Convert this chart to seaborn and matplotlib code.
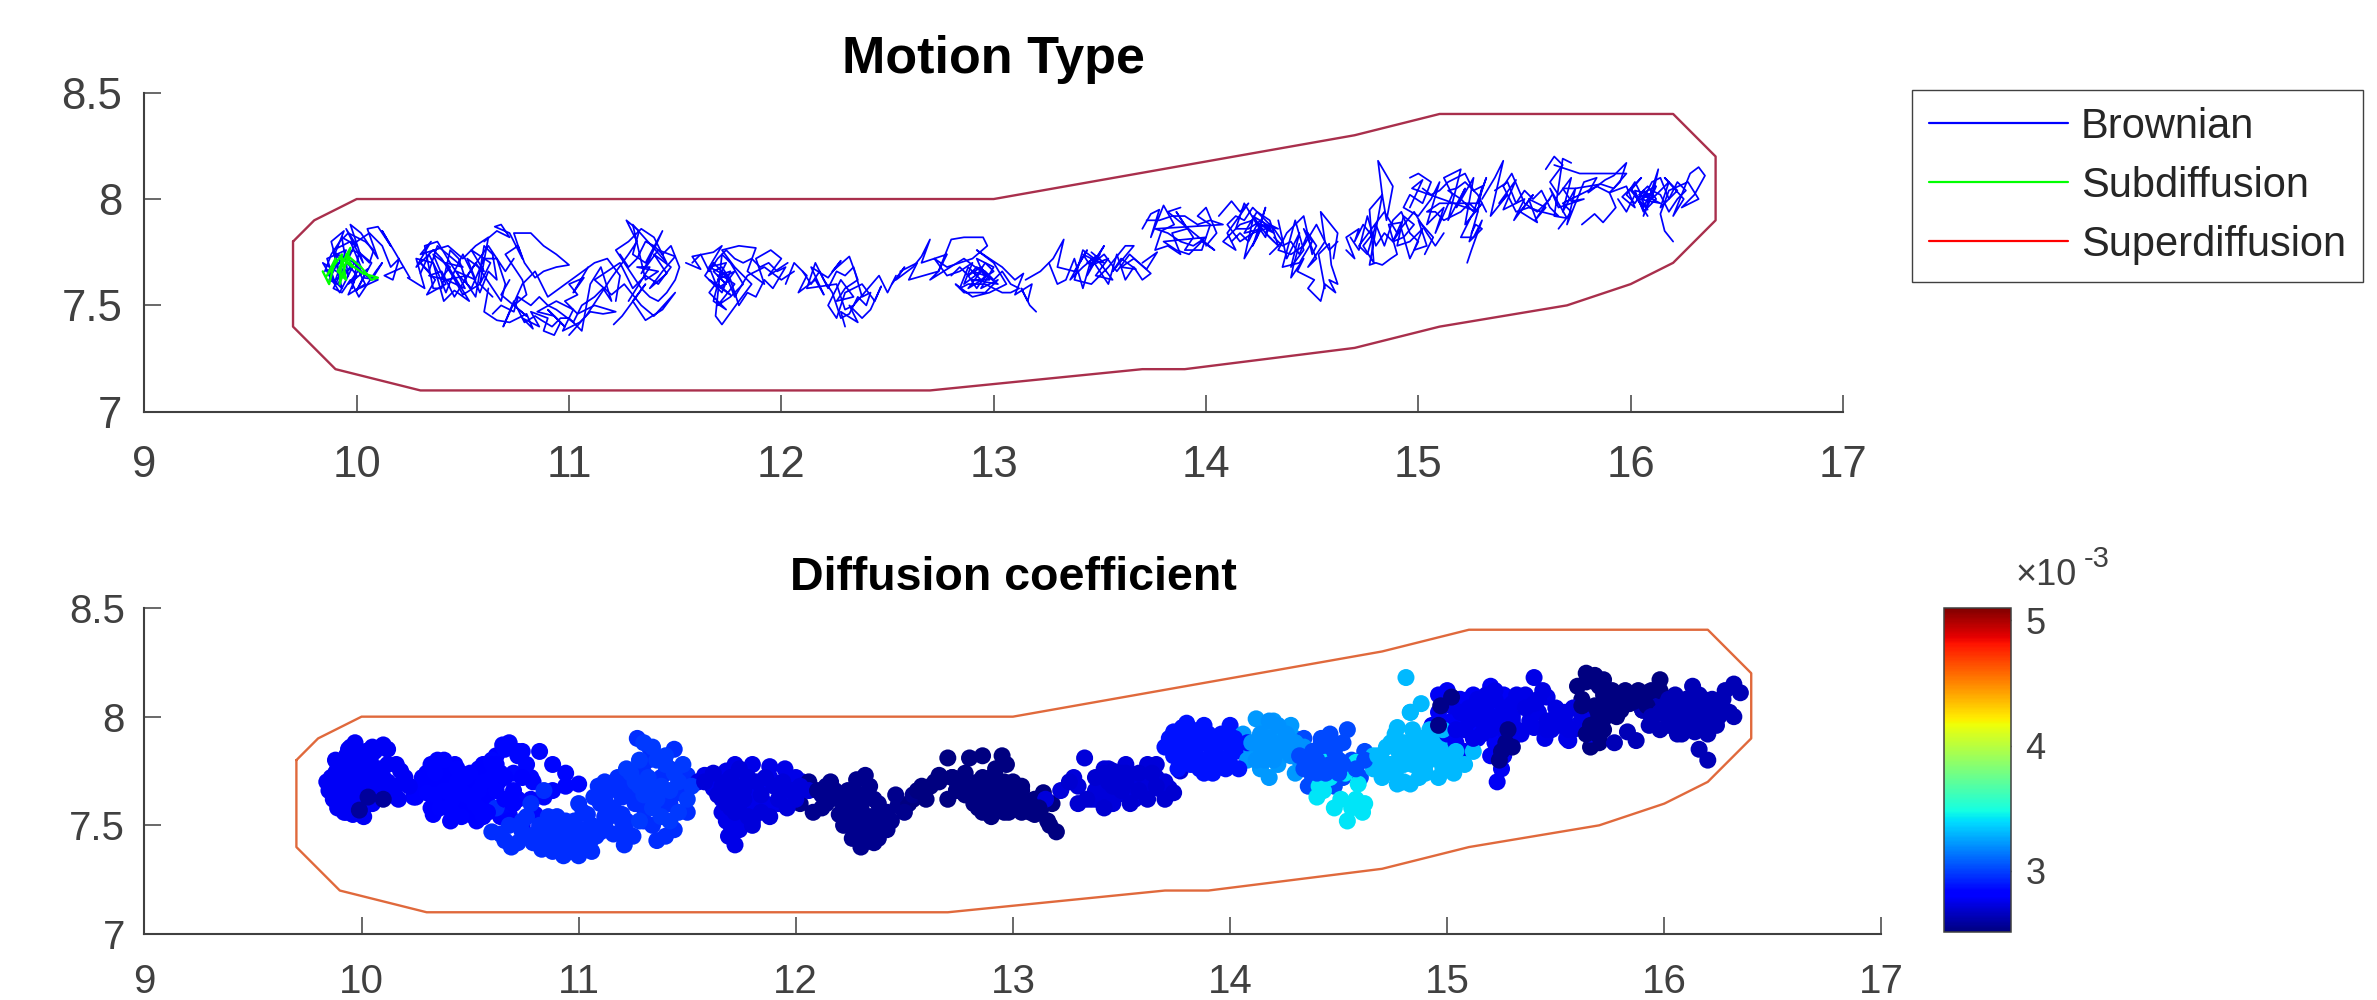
import pandas as pd
import matplotlib
matplotlib.use("Agg")
import matplotlib.pyplot as plt
import seaborn as sns
from matplotlib.colors import Normalize
from matplotlib.cm import ScalarMappable
from matplotlib.lines import Line2D

# boundary polygon
hull_x = [9.7, 9.8, 10, 13, 14.7, 15.1, 16.2, 16.4, 16.4, 16.2, 16, 15.7, 15.1, 14.7, 13.9, 13.7, 12.7, 10.3, 9.9, 9.7, 9.7]
hull_y = [7.8, 7.9, 8, 8, 8.3, 8.4, 8.4, 8.2, 7.9, 7.7, 7.6, 7.5, 7.4, 7.3, 7.2, 7.2, 7.1, 7.1, 7.2, 7.4, 7.8]

# tracks (same positions in both)
x1 = [10.25,10.18,10.12,10.16,10.10,10.05,10.10,10.02,9.97,10.03,9.95,10.00,9.93,9.96,9.90,9.94,9.88,9.92,9.84,9.90,9.86,9.95,9.90,9.98,9.92,9.86,9.94,10.00,9.96,10.04,9.99,9.91,9.87,9.93,9.89,9.97,10.02,9.96,10.05,10.00,10.07,10.01,9.98]
y1 = [7.63,7.75,7.85,7.78,7.87,7.86,7.72,7.84,7.88,7.70,7.86,7.78,7.82,7.64,7.75,7.85,7.80,7.65,7.70,7.60,7.72,7.76,7.62,7.68,7.56,7.66,7.72,7.64,7.55,7.60,7.70,7.74,7.64,7.58,7.76,7.80,7.68,7.60,7.67,7.57,7.70,7.75,7.58]
x2 = [10.24,10.32,10.28,10.36,10.41,10.46,10.53,10.47,10.42,10.50,10.38,10.34,10.30,10.37,10.33,10.42,10.36,10.44,10.40,10.51,10.47,10.56,10.52,10.60,10.54,10.63,10.58,10.50,10.45,10.40,10.36,10.28,10.35,10.30,10.43,10.50,10.56,10.62,10.58,10.64]
y2 = [7.63,7.58,7.72,7.70,7.52,7.57,7.52,7.62,7.70,7.68,7.78,7.66,7.70,7.62,7.55,7.60,7.74,7.68,7.63,7.58,7.66,7.62,7.72,7.66,7.76,7.70,7.60,7.55,7.64,7.72,7.76,7.68,7.80,7.74,7.78,7.72,7.78,7.82,7.60,7.54]
x3 = [10.60,10.66,10.72,10.68,10.65,10.72,10.78,10.74,10.82,10.88,10.94,11.00,10.94,10.88,10.84,10.79,10.76,10.70,10.78,10.80,10.74,10.80,10.68,10.72]
y3 = [7.80,7.85,7.82,7.88,7.87,7.84,7.72,7.84,7.84,7.78,7.74,7.69,7.68,7.66,7.63,7.70,7.78,7.74,7.62,7.55,7.50,7.45,7.55,7.62]
x4 = [10.62,10.60,10.66,10.72,10.80,10.83,10.78,10.86,10.82,10.90,10.88,10.93,10.96,10.90,10.98,10.93,10.85,10.94,11.02,10.97,11.05,11.10,11.16,11.22,11.12,11.04,10.98,11.04,11.0,11.07,11.02,11.09]
y4 = [7.58,7.47,7.43,7.42,7.46,7.39,7.44,7.40,7.47,7.44,7.38,7.36,7.42,7.48,7.40,7.45,7.47,7.52,7.48,7.38,7.42,7.47,7.46,7.47,7.50,7.46,7.52,7.55,7.60,7.63,7.56,7.68]
x5 = [11.0,11.08,11.14,11.20,11.28,11.32,11.27,11.33,11.30,11.36,11.44,11.38,11.34,11.42,11.50,11.44,11.38,11.46,11.40,11.48,11.42,11.36,11.30,11.24,11.18,11.12,11.20,11.26,11.34,11.40,11.50,11.44,11.36,11.30,11.36,11.25,11.21]
y5 = [7.36,7.45,7.54,7.63,7.74,7.80,7.90,7.85,7.74,7.70,7.85,7.72,7.65,7.76,7.73,7.66,7.58,7.65,7.74,7.68,7.60,7.64,7.58,7.70,7.66,7.62,7.55,7.60,7.50,7.45,7.56,7.48,7.43,7.52,7.60,7.45,7.41]
x6 = [11.55,11.62,11.58,11.68,11.72,11.66,11.74,11.70,11.78,11.72,11.66,11.76,11.70,11.68,11.74,11.66,11.72,11.78,11.70,11.76,11.82,11.76,11.72,11.69,11.72,11.80,11.86,11.78,11.72,11.80,11.88,11.84,11.92,11.88,11.95,12.0,11.94,12.03]
y6 = [7.70,7.67,7.73,7.75,7.78,7.68,7.70,7.62,7.66,7.58,7.62,7.55,7.60,7.52,7.48,7.56,7.64,7.60,7.50,7.54,7.60,7.70,7.74,7.45,7.41,7.52,7.60,7.68,7.76,7.78,7.77,7.66,7.60,7.72,7.76,7.72,7.64,7.70]
x7 = [12.02,12.06,12.12,12.08,12.16,12.20,12.14,12.22,12.28,12.24,12.32,12.36,12.30,12.26,12.34,12.28,12.22,12.26,12.30,12.38,12.44,12.47,12.42,12.38,12.32,12.36,12.28,12.30]
y7 = [7.60,7.70,7.64,7.56,7.62,7.55,7.68,7.63,7.71,7.66,7.73,7.62,7.58,7.52,7.54,7.62,7.50,7.44,7.56,7.60,7.52,7.59,7.48,7.44,7.50,7.42,7.47,7.40]
x8 = [12.52,12.58,12.54,12.62,12.66,12.70,12.66,12.72,12.78,12.74,12.80,12.86,12.95,12.97,12.90,12.84,12.78,12.72,12.78,12.84,12.90,12.86,12.94,12.88,12.96,12.92,13.00,12.94,13.02,12.96,12.86,12.82,12.90,12.98,13.06,13.0,12.92,13.04,13.10,13.14,13.10,13.18,13.16,13.13,13.17,13.20]
y8 = [7.60,7.68,7.62,7.68,7.73,7.81,7.70,7.72,7.74,7.66,7.81,7.82,7.82,7.78,7.72,7.70,7.68,7.72,7.64,7.66,7.70,7.60,7.66,7.58,7.63,7.72,7.68,7.58,7.62,7.56,7.56,7.60,7.54,7.56,7.60,7.70,7.76,7.68,7.62,7.65,7.55,7.60,7.52,7.58,7.50,7.47]
x9 = [13.15,13.22,13.28,13.33,13.30,13.38,13.44,13.36,13.42,13.48,13.44,13.52,13.46,13.54,13.48,13.56,13.50,13.42,13.38,13.46,13.54,13.62,13.66,13.56,13.60,13.67,13.60,13.66,13.72,13.77,13.70]
y9 = [7.62,7.66,7.72,7.81,7.68,7.66,7.76,7.62,7.68,7.73,7.64,7.78,7.69,7.72,7.64,7.62,7.70,7.76,7.62,7.60,7.68,7.78,7.78,7.66,7.72,7.67,7.68,7.72,7.67,7.75,7.70]
x10 = [13.70,13.74,13.78,13.74,13.80,13.85,13.79,13.76,13.82,13.88,13.84,13.91,13.86,13.94,13.90,13.98,14.02,13.96,14.0,14.05,14.0]
y10 = [7.86,7.93,7.95,7.82,7.97,7.88,7.85,7.76,7.78,7.74,7.84,7.86,7.94,7.82,7.76,7.76,7.88,7.92,7.96,7.84,7.78]
x11 = [14.06,14.12,14.16,14.20,14.10,14.14,14.08,14.16,14.22,14.18,14.24,14.28,14.22,14.26,14.18,14.24,14.30,14.34,14.28,14.22,14.32,14.36,14.30]
y11 = [7.92,7.99,7.94,7.98,7.84,7.76,7.80,7.88,7.90,7.72,7.82,7.96,7.78,7.86,7.84,7.94,7.90,7.78,7.84,7.92,7.86,7.80,7.74]
x12 = [14.34,14.38,14.44,14.40,14.46,14.42,14.36,14.44,14.50,14.46,14.52,14.48,14.56,14.54,14.62,14.60]
y12 = [7.90,7.72,7.84,7.68,7.76,7.90,7.68,7.70,7.80,7.86,7.72,7.68,7.80,7.94,7.84,7.72]
x13 = [14.44,14.41,14.40,14.46,14.43,14.51,14.48,14.54,14.56,14.61,14.58,14.62,14.59,14.58,14.53,14.56]
y13 = [7.79,7.68,7.63,7.72,7.66,7.62,7.58,7.52,7.60,7.56,7.62,7.60,7.69,7.79,7.74,7.58]
x14 = [14.66,14.70,14.66,14.72,14.70,14.74,14.78,14.74,14.79,14.77,14.83,14.85,14.88,14.81,14.83,14.77,14.80,14.83,14.87,14.90,14.86,14.92,14.88,14.93,14.98,14.93,14.90,14.96,15.02,14.98,15.04,15.0,15.07,15.03]
y14 = [7.76,7.72,7.82,7.86,7.80,7.88,7.83,7.78,7.70,7.95,8.02,7.90,8.06,8.18,8.02,7.69,7.70,7.69,7.72,7.74,7.88,7.89,7.80,7.82,7.88,7.92,7.78,7.80,7.86,7.76,7.78,7.90,7.82,7.74]
x15 = [14.96,15.0,15.06,15.02,14.96,14.93,15.0,15.06,15.10,15.04,15.12,15.08,15.16,15.12,15.20,15.14,15.22,15.18,15.26,15.22,15.30,15.25,15.20,15.26,15.30,15.25,15.23]
y15 = [8.10,8.12,8.08,7.98,8.02,7.96,7.92,8.0,8.08,7.88,7.96,7.84,8.02,8.10,8.14,7.90,8.05,7.96,8.10,7.88,7.98,7.92,7.82,7.82,7.90,7.76,7.70]
x16 = [15.30,15.36,15.40,15.34,15.42,15.38,15.46,15.40,15.50,15.45,15.54,15.48,15.56,15.52,15.60,15.55,15.63]
y16 = [8.00,8.10,8.18,7.92,8.02,7.98,8.09,7.95,8.0,7.90,8.02,7.94,7.89,8.0,7.96,7.90,8.02]
x17 = [15.60,15.64,15.68,15.62,15.66,15.72,15.68,15.74,15.70,15.78,15.84,15.80,15.88,15.92,15.98,15.95,15.90,15.84,15.76,15.68,15.72,15.66]
y17 = [8.14,8.20,8.16,8.08,8.02,8.10,7.94,8.05,7.88,8.08,8.10,8.03,8.09,8.11,8.17,8.08,8.03,8.06,8.02,7.98,7.94,7.86]
x18 = [15.77,15.83,15.87,15.93,15.90,15.98,16.02,15.96,16.05,16.0,16.08,16.04,16.12,16.06,16.13,16.10,16.18,16.14,16.22,16.16,16.25,16.20,16.28,16.32,16.35,16.30,16.24,16.32,16.27,16.18,16.14,16.16,16.20]
y18 = [7.88,7.93,7.89,7.96,8.03,8.06,7.96,8.01,8.10,8.04,7.95,8.02,8.06,7.92,8.14,8.0,8.08,7.96,8.04,8.10,8.0,7.92,8.12,8.15,8.11,8.02,7.96,8.0,8.08,8.04,7.93,7.85,7.80]
x19 = [9.85,9.88,9.92,9.96,10.0,10.04,10.08,10.06,10.02,9.98,9.94,9.90,9.87,9.91,9.95,9.99,10.03,10.07,10.12,10.09,10.05,10.01,9.97,9.93,9.89,9.95,10.0,10.06,10.12,10.16,10.20,10.17,10.13,10.22]
y19 = [7.66,7.74,7.80,7.84,7.82,7.80,7.76,7.70,7.74,7.76,7.72,7.68,7.62,7.60,7.66,7.70,7.65,7.62,7.70,7.66,7.60,7.54,7.62,7.56,7.58,7.70,7.80,7.84,7.78,7.68,7.72,7.62,7.64,7.68]
x20 = [10.30,10.34,10.38,10.42,10.46,10.50,10.54,10.58,10.62,10.66,10.64,10.60,10.56,10.52,10.48,10.44,10.40,10.36,10.32,10.38,10.44,10.48,10.54,10.60,10.66,10.70,10.68,10.56,10.46,10.40,10.34,10.42,10.52,10.62,10.70,10.74]
y20 = [7.65,7.74,7.66,7.56,7.66,7.74,7.66,7.56,7.66,7.62,7.74,7.78,7.54,7.60,7.72,7.76,7.58,7.58,7.78,7.80,7.70,7.64,7.58,7.72,7.72,7.60,7.52,7.70,7.54,7.66,7.64,7.62,7.64,7.78,7.66,7.72]
x21 = [10.64,10.68,10.74,10.76,10.82,10.86,10.90,10.94,10.98,11.02,11.06,11.12,11.16,11.20,11.15,11.10,11.06,11.00,10.96,10.92,10.87,10.84,10.79,10.74,10.69,10.78,10.84,10.90,11.12,11.18,11.24,11.22]
y21 = [7.46,7.50,7.47,7.54,7.50,7.54,7.50,7.48,7.45,7.42,7.50,7.54,7.58,7.52,7.68,7.60,7.38,7.44,7.44,7.40,7.43,7.45,7.42,7.52,7.40,7.60,7.66,7.54,7.70,7.72,7.64,7.52]
x22 = [11.24,11.28,11.32,11.36,11.40,11.44,11.48,11.52,11.50,11.46,11.42,11.38,11.34,11.30,11.26,11.22,11.28,11.34,11.40,11.46,11.30,11.36,11.42,11.32,11.38,11.28]
y22 = [7.74,7.68,7.72,7.80,7.78,7.74,7.78,7.68,7.62,7.56,7.52,7.54,7.58,7.64,7.70,7.76,7.80,7.86,7.82,7.70,7.88,7.62,7.66,7.68,7.68,7.52]
x23 = [11.58,11.62,11.66,11.70,11.74,11.78,11.82,11.86,11.90,11.94,11.98,12.02,11.96,11.92,11.88,11.84,11.80,11.76,11.72,11.68,11.64,11.68,11.72,11.76,11.70,11.74,11.68,11.72,11.76,11.70,11.66,11.74,11.78,11.84,11.92,12.00,12.06]
y23 = [7.70,7.74,7.66,7.72,7.76,7.72,7.70,7.72,7.68,7.70,7.66,7.68,7.58,7.62,7.54,7.56,7.50,7.62,7.66,7.70,7.64,7.60,7.56,7.66,7.64,7.60,7.66,7.68,7.62,7.58,7.68,7.64,7.54,7.64,7.68,7.62,7.66]
x24 = [12.10,12.14,12.18,12.22,12.26,12.30,12.34,12.38,12.42,12.40,12.36,12.32,12.28,12.24,12.20,12.16,12.12,12.26,12.30,12.34,12.46,12.50,12.54]
y24 = [7.66,7.60,7.66,7.58,7.66,7.64,7.68,7.54,7.56,7.50,7.54,7.46,7.44,7.56,7.62,7.70,7.58,7.60,7.48,7.50,7.64,7.56,7.64]
x25 = [12.80,12.84,12.88,12.92,12.96,13.00,13.04,13.08,13.12,13.08,13.04,13.00,12.96,12.92,12.88,12.84,12.88,12.92,12.96,13.00,12.94,12.90,12.96,12.92,12.88,12.94,12.98,12.90,13.02,12.86,12.70,12.74,12.60,12.64,12.56]
y25 = [7.64,7.68,7.64,7.68,7.66,7.62,7.66,7.60,7.58,7.56,7.56,7.58,7.60,7.60,7.60,7.58,7.68,7.64,7.70,7.66,7.62,7.66,7.64,7.58,7.64,7.68,7.62,7.62,7.60,7.72,7.62,7.66,7.62,7.70,7.66]
x26 = [13.26,13.30,13.34,13.38,13.42,13.46,13.50,13.54,13.58,13.62,13.66,13.70,13.74,13.64,13.58,13.52,13.47,13.44,13.50,13.46,13.42,13.48,13.52,13.46]
y26 = [7.70,7.60,7.62,7.72,7.58,7.72,7.66,7.60,7.74,7.62,7.68,7.62,7.65,7.74,7.66,7.74,7.70,7.70,7.74,7.68,7.74,7.71,7.70,7.75]
x27 = [13.72,13.78,13.84,13.90,13.96,14.02,14.08,13.76,13.82,13.88,13.94,14.00,13.80,13.86,13.92,13.98,14.04,13.82,13.88]
y27 = [7.90,7.90,7.92,7.92,7.88,7.90,7.88,7.86,7.84,7.80,7.78,7.82,7.80,7.76,7.74,7.80,7.76,7.94,7.96]
x28 = [14.12,14.16,14.20,14.24,14.28,14.30,14.26,14.22,14.18,14.14,14.10,14.16,14.22,14.28,14.32,14.26,14.20,14.14,14.18,14.24,14.30,14.26,14.34,14.30,14.28,14.32]
y28 = [7.80,7.84,7.80,7.88,7.82,7.88,7.92,7.96,7.90,7.92,7.88,7.80,7.84,7.86,7.84,7.90,7.86,7.86,7.98,7.88,7.86,7.88,7.86,7.88,7.84,7.80]
x29 = [14.32,14.36,14.40,14.44,14.48,14.52,14.50,14.46,14.42,14.38,14.34,14.40,14.46,14.52,14.58,14.62]
y29 = [7.82,7.78,7.80,7.74,7.84,7.78,7.74,7.92,7.88,7.84,7.76,7.74,7.78,7.88,7.76,7.80]
x30 = [14.68,14.72,14.76,14.80,14.84,14.88,14.92,14.96,15.0,14.96,14.92,14.88,14.84,14.80,14.76,14.72,14.84,14.90,14.98,15.04,15.08,15.12]
y30 = [7.82,7.76,7.92,7.78,7.84,7.80,7.86,7.72,7.80,7.84,7.94,7.90,7.78,7.88,7.74,7.78,7.94,7.84,7.94,7.84,7.78,7.84]
x31 = [15.02,15.06,15.10,15.14,15.18,15.22,15.26,15.30,15.28,15.24,15.20,15.16,15.12,15.08,15.04,15.10,15.16,15.22,15.28,15.32,15.26,15.20,15.14,15.18,15.22,15.28,15.32]
y31 = [8.05,8.02,8.04,8.08,8.10,8.12,8.04,8.06,7.94,7.98,7.94,7.92,7.90,7.94,7.94,7.98,7.98,7.98,7.98,8.10,7.94,8.0,8.04,8.05,8.08,8.02,7.94]
x32 = [15.25,15.27,15.30,15.24,15.28,14.97,15.02,14.96]
y32 = [7.84,7.88,7.86,7.80,7.94,8.05,8.09,7.96]
x33 = [15.36,15.42,15.46,15.50,15.54,15.58,15.62,15.66,15.58,15.52,15.46,15.40,15.44,15.50,15.56,15.62]
y33 = [8.04,8.08,7.98,8.04,8.0,8.04,7.96,7.92,7.94,7.96,7.94,8.06,8.12,7.98,7.94,8.0]
x34 = [15.64,15.70,15.76,15.82,15.88,15.94,15.98,15.92,15.86,15.80,15.74,15.68,15.72,15.78,15.66,15.62,15.70,15.64,15.68,15.72]
y34 = [8.16,8.14,8.12,8.12,8.12,8.12,8.12,8.05,8.07,8.06,8.05,8.05,7.99,8.0,7.96,8.05,7.91,7.92,8.19,8.17]
x35 = [15.94,15.98,16.02,16.06,16.10,16.14,16.18,16.22,16.26,16.22,16.18,16.14,16.10,16.06,16.02,15.98,16.02,16.06,16.10,16.04,16.08,16.12,16.06,16.02,16.10,16.06,16.14,16.04,16.00,16.08]
y35 = [8.0,7.94,8.02,7.96,8.04,8.02,7.94,8.0,8.04,8.08,8.0,8.10,8.08,8.0,8.08,8.02,7.98,8.04,8.0,8.02,8.06,8.0,7.94,8.04,8.02,8.02,7.98,8.0,8.05,7.92]
x36 = [10.03, 10.10, 9.99]
y36 = [7.63, 7.62, 7.57]

track_xs = [x1, x2, x3, x4, x5, x6, x7, x8, x9, x10, x11, x12, x13, x14, x15, x16, x17, x18,
            x19, x20, x21, x22, x23, x24, x25, x26, x27, x28, x29, x30, x31, x32, x33, x34, x35, x36]
track_ys = [y1, y2, y3, y4, y5, y6, y7, y8, y9, y10, y11, y12, y13, y14, y15, y16, y17, y18,
            y19, y20, y21, y22, y23, y24, y25, y26, y27, y28, y29, y30, y31, y32, y33, y34, y35, y36]
# diffusion coefficient of each track (x 1e-3)
track_d = [2.78, 2.82, 2.85, 2.95, 2.95, 2.75, 2.55, 2.52, 2.72, 2.88, 3.22, 3.02, 3.42, 3.3, 2.78, 2.75, 2.52, 2.64,
           2.78, 2.84, 2.95, 2.98, 2.72, 2.55, 2.52, 2.7, 2.88, 3.2, 3.02, 3.3, 2.75, 2.54, 2.74, 2.52, 2.64, 2.58]

sub_x = [9.84, 9.87, 9.90, 9.86, 9.93, 9.92, 9.97, 9.91, 9.95, 9.93, 9.98, 9.95, 10.02, 10.07, 10.1, 10.03, 9.96]
sub_y = [7.66, 7.60, 7.72, 7.64, 7.74, 7.60, 7.77, 7.66, 7.62, 7.72, 7.68, 7.74, 7.68, 7.62, 7.63, 7.65, 7.70]

legend_labels = ["Brownian", "Subdiffusion", "Superdiffusion"]
cbar_ticks = [3e-3, 4e-3, 5e-3]
cbar_labels = ["3", "4", "5"]
x_ticks = [9, 10, 11, 12, 13, 14, 15, 16, 17]
y_ticks = [7, 7.5, 8, 8.5]
y_labels = ["7", "7.5", "8", "8.5"]

W, H = 2377, 1000
DARK = "#404040"
JET = matplotlib.colormaps["jet"]


def pixel_axes(fig, left, right, top, bottom):
    return fig.add_axes([left / W, 1 - bottom / H, (right - left) / W, (bottom - top) / H])


def style_axes(ax, size, xpad, ypad):
    ax.set_xlim(9, 17)
    ax.set_ylim(7, 8.5)
    ax.set_xticks(x_ticks)
    ax.set_yticks(y_ticks)
    ax.set_yticklabels(y_labels)
    ax.set_xlabel("")
    ax.set_ylabel("")
    ax.tick_params(direction="in", length=12, width=1.1, color=DARK, labelcolor=DARK, labelsize=size)
    ax.tick_params(axis="x", pad=xpad)
    ax.tick_params(axis="y", pad=ypad)
    sns.despine(ax=ax)
    for side in ["left", "bottom"]:
        ax.spines[side].set_color(DARK)
        ax.spines[side].set_linewidth(1.5)


def tracks_frame():
    frames = []
    for i, (tx, ty) in enumerate(zip(track_xs, track_ys)):
        frames.append(pd.DataFrame({"x": tx, "y": ty, "track": i, "diff": track_d[i] * 1e-3}))
    return pd.concat(frames, ignore_index=True)


def draw_motion(ax, df):
    sns.lineplot(data=df, x="x", y="y", units="track", estimator=None, sort=False,
                 color="#0000ff", linewidth=1.25, ax=ax)
    sns.lineplot(x=sub_x, y=sub_y, estimator=None, sort=False, color="#00ff00", linewidth=1.7, ax=ax)
    sns.lineplot(x=hull_x, y=hull_y, estimator=None, sort=False, color="#a92f4c", linewidth=1.7, ax=ax)
    style_axes(ax, 31.5, 24, 16)
    ax.set_title("Motion Type", fontsize=37.5, fontweight="bold", color="black", pad=14)


def draw_diffusion(ax, df, norm):
    sns.lineplot(x=hull_x, y=hull_y, estimator=None, sort=False, color="#e0693c", linewidth=1.7, ax=ax)
    sns.scatterplot(data=df, x="x", y="y", hue="diff", hue_norm=norm, palette=JET,
                    s=150, linewidth=0, legend=False, ax=ax, zorder=3)
    style_axes(ax, 29, 21, 14)
    ax.set_title("Diffusion coefficient", fontsize=33.5, fontweight="bold", color="black", pad=13)


def draw_colorbar(fig, norm):
    cax = pixel_axes(fig, 1944.4, 2011.3, 607.7, 932.3)
    cb = fig.colorbar(ScalarMappable(norm=norm, cmap=JET), cax=cax)
    cb.set_ticks(cbar_ticks)
    cb.set_ticklabels(cbar_labels)
    cb.ax.tick_params(direction="in", length=2, width=1, color=DARK, labelcolor=DARK, labelsize=26, pad=10)
    cb.outline.set_edgecolor(DARK)
    cb.outline.set_linewidth(1.1)
    fig.text(2016 / W, 1 - 585 / H, "×10", fontsize=26, color=DARK, va="baseline", ha="left")
    fig.text(2084 / W, 1 - 567 / H, "-3", fontsize=21, color=DARK, va="baseline", ha="left")


def main():
    sns.set_theme(style="ticks")
    plt.rcParams["font.family"] = ["Liberation Sans", "DejaVu Sans"]

    df = tracks_frame()
    norm = Normalize(2.51e-3, 5.1e-3)

    fig = plt.figure(figsize=(W / 100, H / 100), dpi=100, facecolor="white")
    ax_top = pixel_axes(fig, 144.4, 1843, 92.7, 411.7)
    ax_bot = pixel_axes(fig, 144.4, 1881.5, 608, 934)

    draw_motion(ax_top, df)
    draw_diffusion(ax_bot, df, norm)
    draw_colorbar(fig, norm)

    handles = [Line2D([], [], color=c, linewidth=1.6) for c in ["#0000ff", "#00ff00", "#ff0000"]]
    fig.legend(handles, legend_labels, loc="upper left", bbox_to_anchor=(1912 / W, 1 - 90 / H),
               frameon=True, fancybox=False, framealpha=1, edgecolor=DARK, fontsize=30,
               handlelength=3.35, handletextpad=0.3, labelspacing=0.46, borderpad=0.4,
               borderaxespad=0)

    fig.savefig("out.png", dpi=100)
    plt.close(fig)


if __name__ == "__main__":
    main()
